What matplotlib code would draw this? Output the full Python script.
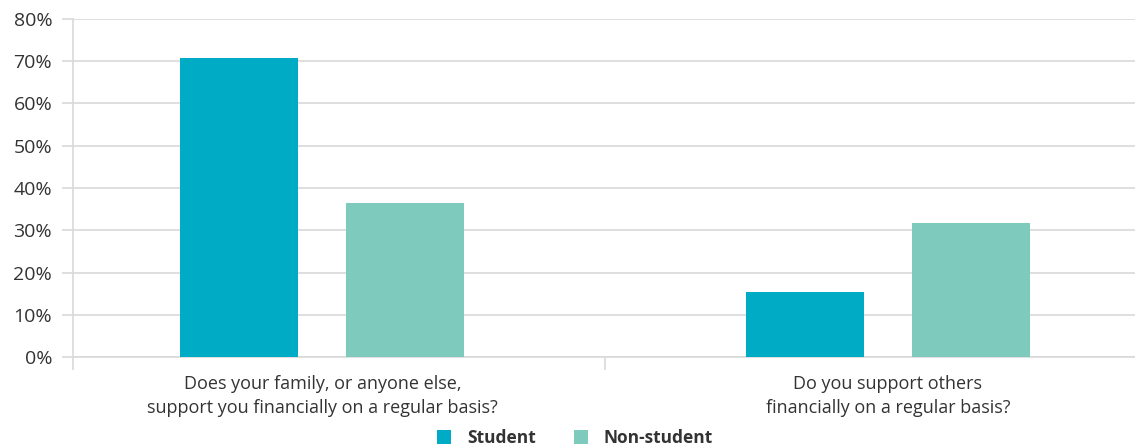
import matplotlib
matplotlib.use("Agg")
import matplotlib.pyplot as plt
from matplotlib.patches import Patch
import numpy as np

categories = ["Does your family, or anyone else,\nsupport you financially on a regular basis?",
              "Do you support others\nfinancially on a regular basis?"]
series_names = ["Student", "Non-student"]
student = [70.8, 15.3]
non_student = [36.4, 31.7]
yticks = [0, 10, 20, 30, 40, 50, 60, 70, 80]

colors = ["#00ABC6", "#7ECBBE"]
grid_c = "#D9D9D9"
text_c = "#333333"

plt.rcParams['font.family'] = ['Open Sans', 'DejaVu Sans']

fig = plt.figure(figsize=(11.35, 4.48), dpi=100)
W, H = 1135, 448
ax = fig.add_axes([73 / W, 1 - 357 / H, (1135 - 73) / W, (357 - 19) / H])

x = np.arange(len(categories))
bw = 0.209
off = 0.1468
ax.bar(x - off, student, bw, color=colors[0], zorder=3)
ax.bar(x + off, non_student, bw, color=colors[1], zorder=3)

ax.set_xlim(-0.441, 1.437)
ax.set_ylim(0, 80)
ax.set_yticks(yticks)
ax.set_yticklabels([f"{v}%" for v in yticks], fontsize=14, color=text_c)
ax.yaxis.grid(True, color=grid_c, linewidth=1.2, zorder=0)
ax.tick_params(axis='y', length=8, color=grid_c, width=1.2, pad=7)

ax.set_xticks(x)
ax.set_xticklabels(categories, fontsize=13, color=text_c, linespacing=1.4)
ax.tick_params(axis='x', which='major', length=0, pad=13)
ax.set_xticks([-0.441, 0.5], minor=True)
ax.tick_params(axis='x', which='minor', length=9, color=grid_c, width=1.2)

for s in ['top', 'right']:
    ax.spines[s].set_visible(False)
ax.spines['left'].set_color(grid_c)
ax.spines['left'].set_linewidth(1.2)
ax.spines['bottom'].set_color(grid_c)
ax.spines['bottom'].set_linewidth(1.2)

handles = [Patch(facecolor=c, edgecolor='none') for c in colors]
leg = fig.legend(handles, series_names, loc='center', bbox_to_anchor=(575 / W, 1 - 438 / H),
                 ncol=2, frameon=False, prop={'weight': 'bold', 'size': 12.5},
                 handlelength=0.8, handleheight=0.8, handletextpad=0.9, columnspacing=2.2)
for t in leg.get_texts():
    t.set_color(text_c)

fig.savefig("out.png", dpi=100)
